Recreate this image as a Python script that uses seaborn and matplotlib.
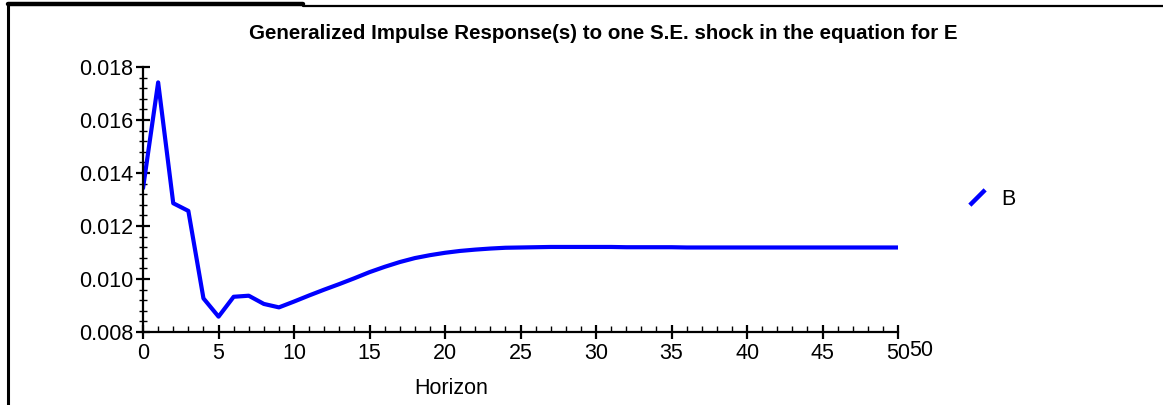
import numpy as np
import pandas as pd
import seaborn as sns
import matplotlib.pyplot as plt
from matplotlib.lines import Line2D
from matplotlib.ticker import MultipleLocator, FormatStrFormatter

# generalized impulse response of B to a shock in E, horizons 0..50
horizon = list(range(51))
response = [0.01343, 0.01742, 0.01286, 0.01257, 0.00927, 0.00858, 0.00933, 0.00937,
            0.00906, 0.00893, 0.00915, 0.00938, 0.00960, 0.00981, 0.01003, 0.01026,
            0.01046, 0.01064, 0.01079, 0.01090, 0.01099, 0.01106, 0.01111, 0.01115,
            0.01118, 0.01119, 0.01120, 0.01121, 0.01121, 0.01121, 0.01121, 0.01121,
            0.01120, 0.01120, 0.01120, 0.01120, 0.01119, 0.01119, 0.01119, 0.01119,
            0.01119, 0.01119, 0.01119, 0.01119, 0.01119, 0.01119, 0.01119, 0.01119,
            0.01119, 0.01119, 0.01119]
series_name = "B"
title = "Generalized Impulse Response(s) to one S.E. shock in the equation for E"

df = pd.DataFrame({"Horizon": horizon, series_name: response})

sns.set_style("ticks")
plt.rcParams['font.family'] = ['Liberation Sans', 'DejaVu Sans']
plt.rcParams['text.color'] = 'black'
plt.rcParams['axes.labelcolor'] = 'black'

fs = 15.5
fig = plt.figure(figsize=(11.63, 4.05), dpi=100)
ax = fig.add_axes([0.1230, 0.1802, 0.6492, 0.6543])

sns.lineplot(data=df, x="Horizon", y=series_name, color="#0000ff", lw=3,
             solid_capstyle="round", solid_joinstyle="round", ax=ax)

ax.set_xlim(0, 50)
ax.set_ylim(0.008, 0.018)
ax.xaxis.set_major_locator(MultipleLocator(5))
ax.xaxis.set_minor_locator(MultipleLocator(1))
ax.yaxis.set_major_locator(MultipleLocator(0.002))
ax.yaxis.set_minor_locator(MultipleLocator(0.0004))
ax.yaxis.set_major_formatter(FormatStrFormatter("%.3f"))

sns.despine(ax=ax)
for s in ["left", "bottom"]:
    ax.spines[s].set_linewidth(1.6)
    ax.spines[s].set_color("black")
ax.tick_params(which="both", colors="black")
ax.tick_params(which="major", direction="inout", length=10, width=1.6, labelsize=fs)
ax.tick_params(axis="y", which="minor", direction="inout", length=6, width=1)
ax.tick_params(axis="x", which="minor", direction="in", length=4, width=1)
ax.tick_params(axis="x", which="major", pad=3)
ax.tick_params(axis="y", which="major", pad=2)

ax.set_ylabel("")
ax.set_xlabel("Horizon", fontsize=fs)
ax.xaxis.set_label_coords(0.408, -0.175)
ax.set_title(title, fontsize=14.8, fontweight="bold", x=0.609, y=1.106, pad=0)

# stray duplicate end label (overlaps the last tick label, as in the source)
ax.text(1.030, -0.070, "50", transform=ax.transAxes, fontsize=fs,
        ha="center", va="center")

# legend with a slanted line
handle = Line2D([], [], color="#0000ff", linestyle="none",
                marker=[(-1, -1), (1, 1)], markersize=11, markeredgewidth=3.2)
ax.legend([handle], [series_name], loc="center left", bbox_to_anchor=(1.065, 0.50),
          frameon=False, fontsize=fs, handlelength=1.0, handletextpad=0.6)

# outer frame pieces
fig.add_artist(Line2D([8 / 1163, 303 / 1163], [1 - 4 / 405, 1 - 4 / 405],
                      transform=fig.transFigure, color="black", lw=3.2))
fig.add_artist(Line2D([303 / 1163, 1.0], [1 - 5.5 / 405, 1 - 5.5 / 405],
                      transform=fig.transFigure, color="black", lw=1.6))
fig.add_artist(Line2D([8 / 1163, 8 / 1163], [0, 1 - 3 / 405],
                      transform=fig.transFigure, color="black", lw=2.2))

fig.savefig("out.png", dpi=100)
